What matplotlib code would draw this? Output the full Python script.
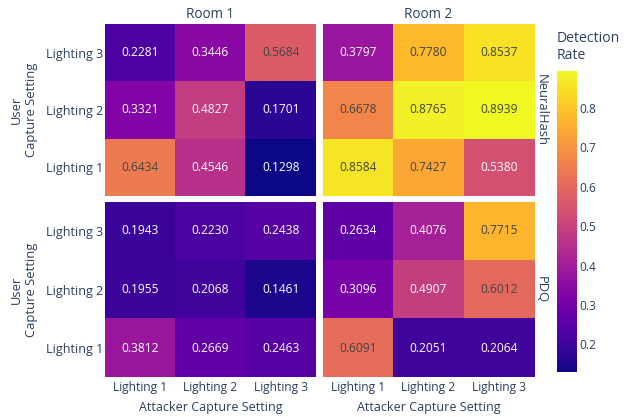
import matplotlib
matplotlib.use("Agg")
import matplotlib.pyplot as plt
import numpy as np
from matplotlib.colors import Normalize, to_rgb

plt.rcParams['font.family'] = ['Open Sans', 'DejaVu Sans']

lighting = ["Lighting 1", "Lighting 2", "Lighting 3"]
rooms = ["Room 1", "Room 2"]
methods = ["NeuralHash", "PDQ"]

# rows: user Lighting 1, 2, 3 ; cols: attacker Lighting 1, 2, 3
nh_room1 = [[0.6434, 0.4546, 0.1298],
            [0.3321, 0.4827, 0.1701],
            [0.2281, 0.3446, 0.5684]]
nh_room2 = [[0.8584, 0.7427, 0.5380],
            [0.6678, 0.8765, 0.8939],
            [0.3797, 0.7780, 0.8537]]
pdq_room1 = [[0.3812, 0.2669, 0.2463],
             [0.1955, 0.2068, 0.1461],
             [0.1943, 0.2230, 0.2438]]
pdq_room2 = [[0.6091, 0.2051, 0.2064],
             [0.3096, 0.4907, 0.6012],
             [0.2634, 0.4076, 0.7715]]

panels = [[nh_room1, nh_room2], [pdq_room1, pdq_room2]]

W, H = 630, 417
fig = plt.figure(figsize=(W / 72, H / 72), dpi=72)

def ax_rect(x0, y0, x1, y1):
    return [x0 / W, 1 - y1 / H, (x1 - x0) / W, (y1 - y0) / H]

xs = [(105, 316), (322.7, 534)]
ys = [(24, 195.7), (201.7, 377.3)]

allv = np.array(panels).ravel()
norm = Normalize(vmin=allv.min(), vmax=allv.max())
cmap = plt.get_cmap('plasma')
fc = '#2a3f5f'

im = None
for r in range(2):
    for c in range(2):
        ax = fig.add_axes(ax_rect(xs[c][0], ys[r][0], xs[c][1], ys[r][1]))
        data = np.array(panels[r][c])
        im = ax.imshow(data, cmap=cmap, norm=norm, origin='lower', aspect='auto',
                       interpolation='nearest')
        for i in range(3):
            for j in range(3):
                v = data[i, j]
                rgb = np.array(to_rgb(cmap(norm(v)))) * 255
                bright = (rgb[0] * 299 + rgb[1] * 587 + rgb[2] * 114) / 1000
                col = '#444444' if bright > 128 else 'white'
                ax.text(j, i, f"{v:.4f}", ha='center', va='center', color=col, fontsize=12)
        for s in ax.spines.values():
            s.set_visible(False)
        ax.tick_params(axis='y', length=0, pad=2, labelsize=12.5, colors=fc)
        ax.tick_params(axis='x', length=0, pad=4, labelsize=12, colors=fc)
        ax.set_xticks(range(3))
        ax.set_yticks(range(3))
        if r == 1:
            ax.set_xticklabels(lighting)
        else:
            ax.set_xticklabels([])
        if c == 0:
            ax.set_yticklabels(lighting)
        else:
            ax.set_yticklabels([])

# column titles
for c in range(2):
    cx = (xs[c][0] + xs[c][1]) / 2
    fig.text(cx / W, 1 - 15 / H, rooms[c], ha='center', va='center', fontsize=13.5, color=fc)
    fig.text(cx / W, 1 - 407 / H, "Attacker Capture Setting", ha='center', va='center',
             fontsize=12.5, color=fc)

# row labels
for r in range(2):
    cy = (ys[r][0] + ys[r][1]) / 2
    fig.text(541 / W, 1 - cy / H, methods[r], ha='center', va='center', rotation=-90,
             fontsize=13, color=fc)
    fig.text(24 / W, 1 - cy / H, "User\nCapture Setting", ha='center', va='center',
             rotation=90, fontsize=13, color=fc, multialignment='center', linespacing=1.2)

# colorbar
cax = fig.add_axes(ax_rect(557.3, 71, 576.7, 372))
cb = fig.colorbar(im, cax=cax, ticks=[0.2, 0.3, 0.4, 0.5, 0.6, 0.7, 0.8])
cb.outline.set_visible(False)
cax.tick_params(length=0, pad=3, labelsize=12, colors=fc)
cax.set_yticklabels([f"{t:.1f}" for t in [0.2, 0.3, 0.4, 0.5, 0.6, 0.7, 0.8]])
fig.text(557 / W, 1 - 47 / H, "Detection\nRate", ha='left', va='center', fontsize=14,
         color=fc, linespacing=1.2)

fig.savefig("out.png", dpi=72)
